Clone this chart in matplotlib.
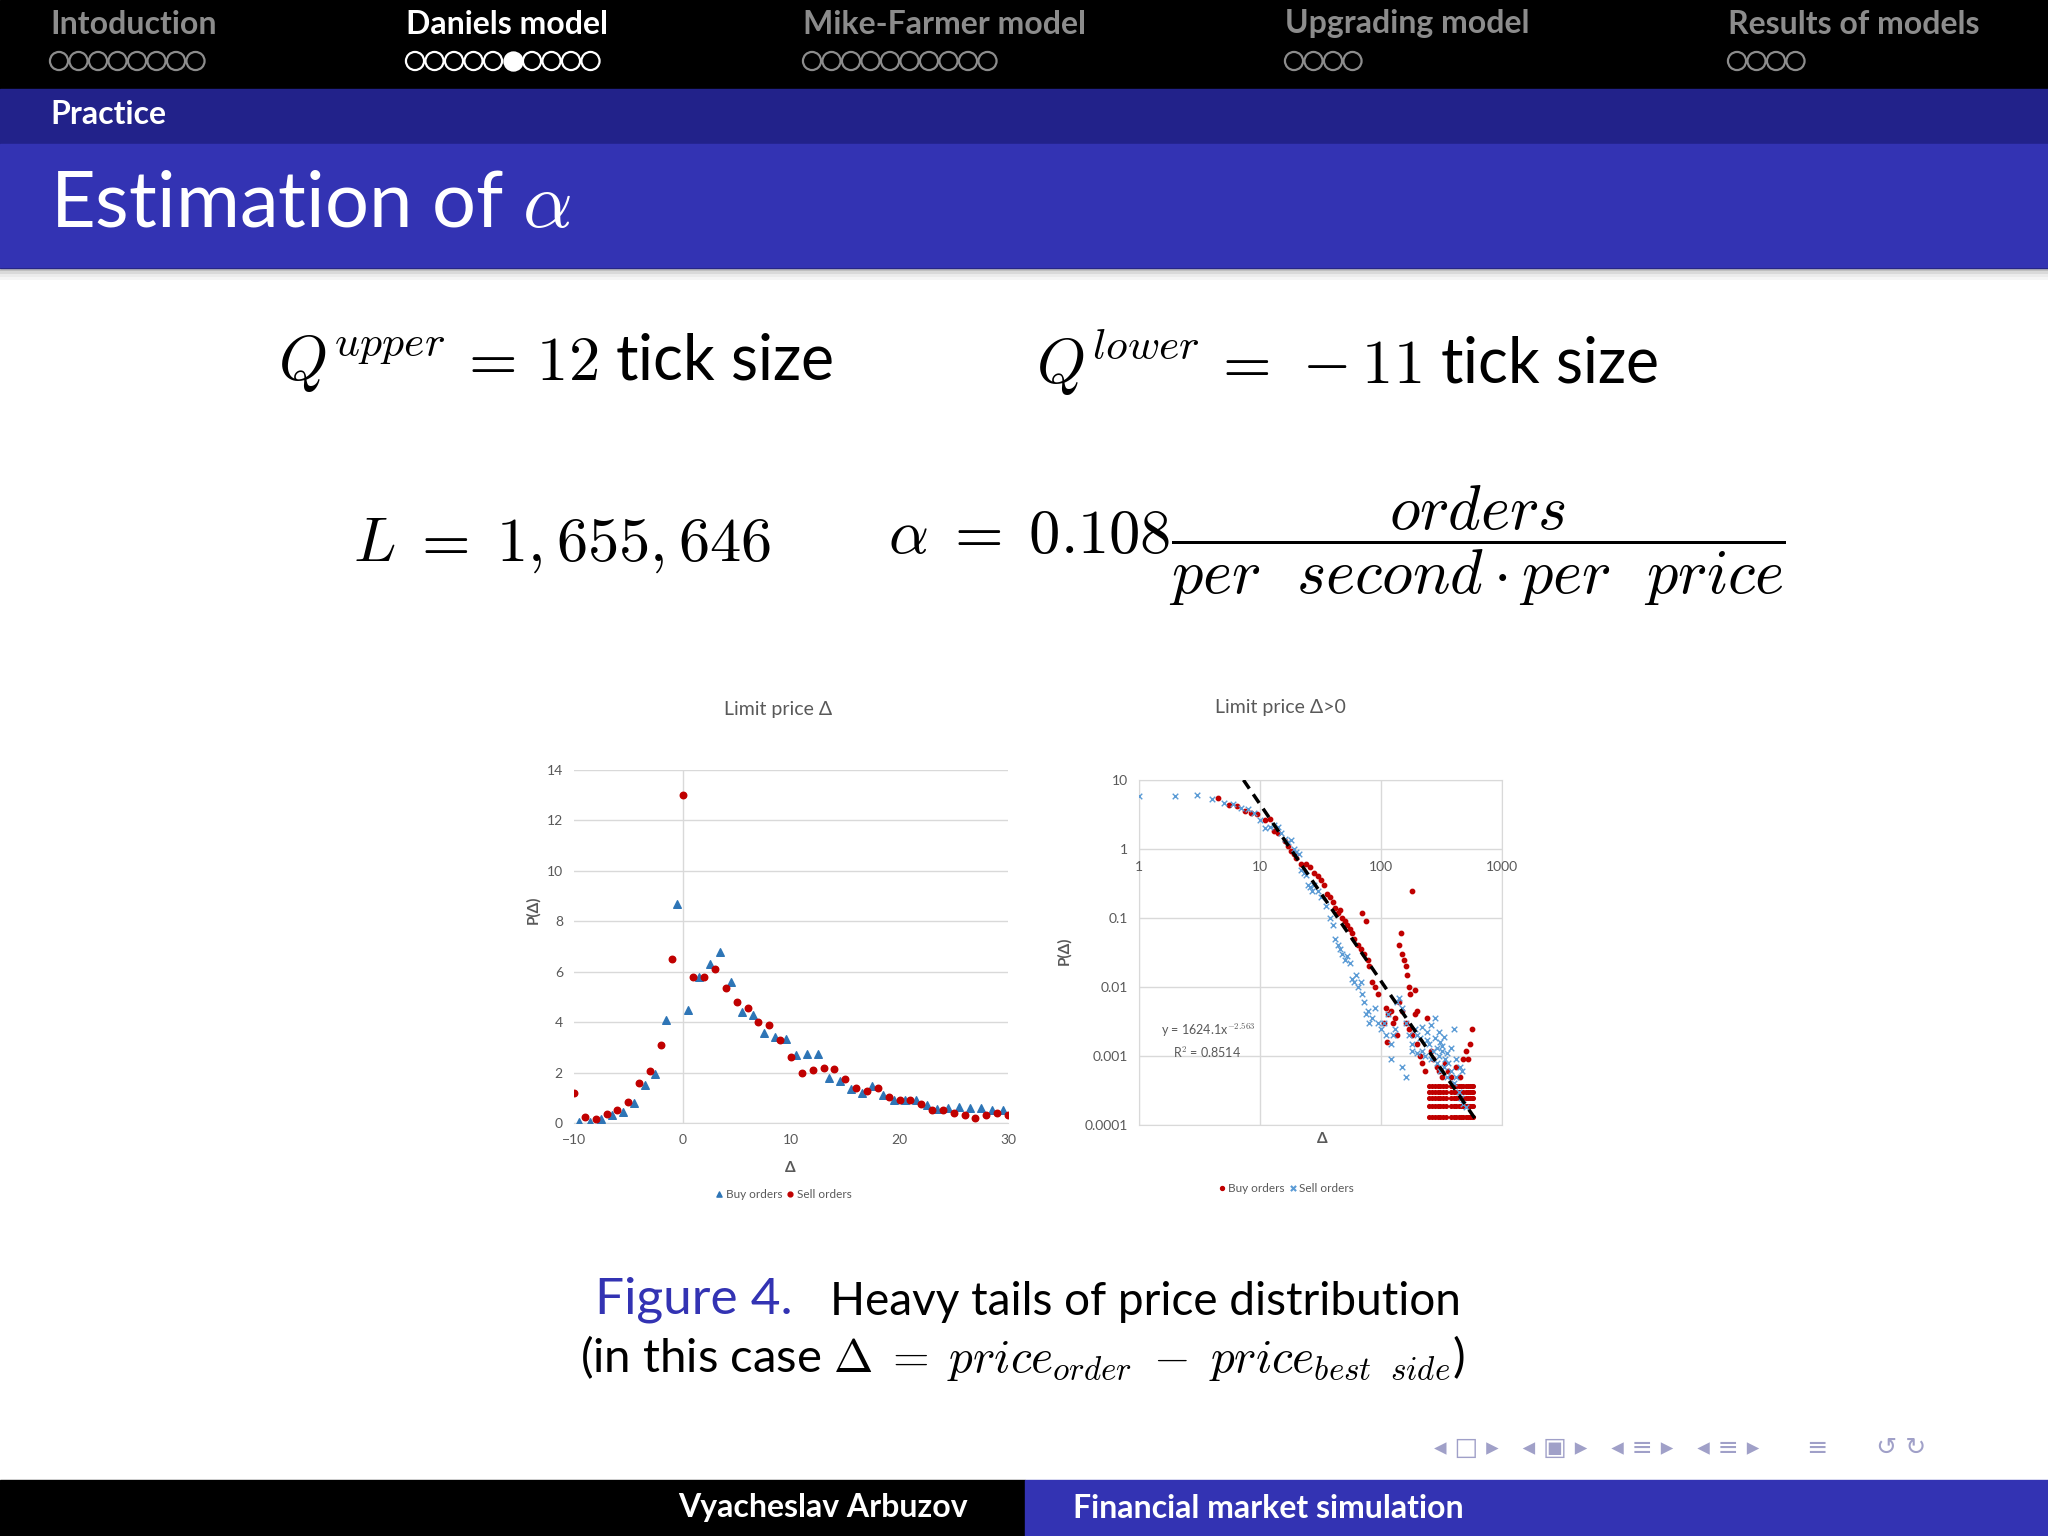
import numpy as np
import matplotlib
matplotlib.use("Agg")
import matplotlib.pyplot as plt
from matplotlib.patches import Rectangle

plt.rcParams["font.family"] = ["Lato", "DejaVu Sans"]
plt.rcParams["mathtext.fontset"] = "cm"

# ==========================================
# DATA
# ==========================================
sections = ["Intoduction", "Daniels model", "Mike-Farmer model", "Upgrading model", "Results of models"]
section_x = [50, 406, 803, 1285, 1728]
section_dots = [8, 10, 10, 4, 4]
active_section = 1
active_dot = 5

# left chart: limit price delta
sell_x = list(range(-10, 31))
sell_y = [1.2, 0.25, 0.15, 0.35, 0.5, 0.85, 1.6, 2.05, 3.1, 6.5, 13.0, 5.8, 5.8, 6.1, 5.35,
          4.8, 4.55, 4.0, 3.9, 3.3, 2.6, 2.0, 2.1, 2.2, 2.15, 1.75, 1.4, 1.25, 1.4, 1.05,
          0.9, 0.9, 0.75, 0.5, 0.5, 0.4, 0.3, 0.2, 0.3, 0.4, 0.3]
buy_x = [v + 0.5 for v in range(-10, 30)]
buy_y = [0.05, 0.05, 0.15, 0.3, 0.45, 0.8, 1.5, 1.95, 4.1, 8.7, 4.5, 5.8, 6.3, 6.8, 5.6,
         4.4, 4.3, 3.55, 3.4, 3.35, 2.7, 2.75, 2.75, 1.8, 1.65, 1.35, 1.2, 1.45, 1.1, 0.9,
         0.9, 0.9, 0.7, 0.55, 0.6, 0.65, 0.6, 0.6, 0.5, 0.5]

# right chart: delta > 0, log-log
rb_x = [4.5, 5.5, 6.5, 7.5, 8.5, 9.5, 11, 12, 13, 14, 16, 17, 18, 19, 20, 22, 24, 26, 28, 30,
        32, 34, 36, 38, 40, 42, 44, 46, 48, 50, 52, 55, 58, 60, 65, 68, 70, 75, 72, 78, 80,
        85, 90, 95, 110, 115, 120, 125, 130, 140, 145, 150, 155, 160, 165, 170, 175, 180,
        190, 140, 150, 160, 170, 180, 200, 210, 220, 230, 105, 112, 135, 190, 200, 240, 260,
        270, 290, 300, 320, 340, 360, 380, 420, 450, 480, 500, 520, 540, 560]
rb_y = [5.5, 4.4, 4.2, 3.6, 3.3, 3.2, 2.6, 2.7, 1.8, 1.7, 1.3, 1.1, 0.95, 0.85, 0.75, 0.6,
        0.6, 0.55, 0.45, 0.4, 0.35, 0.3, 0.22, 0.2, 0.17, 0.14, 0.12, 0.13, 0.1, 0.09, 0.08,
        0.07, 0.06, 0.05, 0.04, 0.035, 0.12, 0.09, 0.03, 0.025, 0.02, 0.012, 0.01, 0.008,
        0.005, 0.004, 0.0045, 0.003, 0.0035, 0.04, 0.06, 0.03, 0.025, 0.02, 0.015, 0.01,
        0.008, 0.25, 0.009, 0.006, 0.0045, 0.003, 0.0025, 0.002, 0.0015, 0.001, 0.0008,
        0.0006, 0.003, 0.0016, 0.002, 0.004, 0.0045, 0.0035, 0.0012, 0.0009, 0.0007, 0.0006,
        0.0005, 0.0008, 0.0006, 0.0005, 0.0007, 0.0005, 0.0009, 0.0012, 0.0009, 0.0015, 0.0025]
rb_row_x = [250, 265, 280, 295, 310, 325, 345, 380, 400, 420, 440, 460, 480, 500, 520, 540, 560, 580]
rb_row_y = [0.00013, 0.00019, 0.00025, 0.0003, 0.00037]

rs_x = [1, 2, 3, 4, 5, 6, 7, 8, 9, 10, 11, 12, 13, 14, 15, 16, 17, 18, 19, 20, 21, 22, 23, 24,
        25, 26, 27, 28, 30, 32, 35, 38, 40, 42, 44, 46, 48, 50, 52, 55, 58, 60, 62, 65, 68,
        70, 72, 75, 78, 80, 85, 90, 95, 100, 105, 110, 115, 120, 125, 130, 135, 140, 150,
        160, 170, 180, 190, 200, 210, 220, 230, 240, 250, 260, 270, 280, 290, 300, 310, 320,
        330, 340, 350, 360, 380, 400, 420, 440, 460, 480, 500, 160, 180, 280, 400, 350, 320,
        300, 260, 240, 220, 420, 450, 470, 380, 330, 310, 290, 200, 150, 120]
rs_y = [5.8, 5.8, 6.0, 5.3, 4.7, 4.5, 3.9, 3.8, 3.3, 2.6, 2.0, 2.1, 2.2, 2.1, 1.7, 1.4, 1.25,
        1.35, 1.0, 0.9, 0.85, 0.5, 0.45, 0.42, 0.3, 0.28, 0.25, 0.3, 0.25, 0.2, 0.15, 0.1, 0.08,
        0.05, 0.04, 0.035, 0.03, 0.025, 0.028, 0.022, 0.013, 0.012, 0.015, 0.01, 0.012, 0.008,
        0.006, 0.004, 0.0045, 0.003, 0.0035, 0.005, 0.003, 0.0025, 0.003, 0.002, 0.004, 0.0015,
        0.002, 0.0025, 0.006, 0.007, 0.005, 0.003, 0.002, 0.0015, 0.0025, 0.002, 0.0018, 0.0012,
        0.001, 0.0022, 0.0015, 0.0009, 0.0012, 0.0018, 0.0008, 0.001, 0.0006, 0.0012, 0.0007,
        0.0009, 0.0005, 0.0008, 0.0006, 0.0004, 0.0005, 0.0003, 0.00025, 0.0002, 0.00018,
        0.0005, 0.0012, 0.0035, 0.0025, 0.0011, 0.0014, 0.0022, 0.0028, 0.0017, 0.0026, 0.0009,
        0.0007, 0.0006, 0.0013, 0.0019, 0.0016, 0.0013, 0.0011, 0.0007, 0.0009]

trend_x = [7.3, 620]
trend_y = [10, 0.000113]

RED = "#C00000"
BLUE = "#2E75B6"
LBLUE = "#5B9BD5"
GREY = "#595959"
SLIDE_BLUE = "#3333B3"

# ==========================================
# SLIDE BACKGROUND
# ==========================================
fig = plt.figure(figsize=(20.48, 15.36), dpi=100)
bg = fig.add_axes([0, 0, 1, 1])
bg.set_xlim(0, 2048)
bg.set_ylim(1536, 0)
bg.axis("off")

bg.add_patch(Rectangle((0, 0), 2048, 89, color="black"))
bg.add_patch(Rectangle((0, 89), 2048, 55, color="#22228a"))
bg.add_patch(Rectangle((0, 144), 2048, 124, color=SLIDE_BLUE))
for i, a in enumerate([0.25, 0.15, 0.08, 0.04]):
    bg.add_patch(Rectangle((0, 268 + i * 3), 2048, 3, color="black", alpha=a, lw=0))
bg.add_patch(Rectangle((0, 1480), 1025, 56, color="black"))
bg.add_patch(Rectangle((1025, 1480), 1023, 56, color=SLIDE_BLUE))

for i, (name, x0, n) in enumerate(zip(sections, section_x, section_dots)):
    col = "white" if i == active_section else "#8c8c8c"
    bg.text(x0, 24, name, color=col, fontsize=23, fontweight="bold", va="center")
    for k in range(n):
        filled = (i == active_section and k == active_dot)
        bg.scatter(x0 + 9 + k * 19.5, 61, s=170, marker="o",
                   facecolor=col if filled else "none", edgecolor=col, linewidth=1.6)

bg.text(50, 115, "Practice", color="white", fontsize=23, fontweight="bold", va="center")
bg.text(50, 205, r"Estimation of $\alpha$", color="white", fontsize=56, va="center")

# formulas
bg.text(278, 363, r"$Q^{upper}\,=\,12$ tick size", fontsize=45, va="center")
bg.text(1036, 363, r"$Q^{lower}\,=\,-11$ tick size", fontsize=45, va="center")
bg.text(353, 546, r"$L\;=\;1,655,646$", fontsize=45, va="center")
bg.text(888, 546, r"$\alpha\;=\;0.108\dfrac{orders}{per\ \ second\cdot per\ \ price}$",
        fontsize=45, va="center")

# caption
bg.text(595, 1300, "Figure 4.", color=SLIDE_BLUE, fontsize=37, va="center")
bg.text(830, 1302, "Heavy tails of price distribution", fontsize=33, va="center")
bg.text(1023, 1358, r"(in this case $\Delta\;=\;price_{order}\;-\;price_{best\ \ side}$)",
        fontsize=34, va="center", ha="center")

# footer
bg.text(823, 1508, "Vyacheslav Arbuzov", color="white", fontsize=23, fontweight="bold",
        ha="center", va="center")
bg.text(1073, 1508, "Financial market simulation", color="white", fontsize=23,
        fontweight="bold", va="center")
bg.text(1680, 1448, "\u25C2 \u25A1 \u25B8   \u25C2 \u25A3 \u25B8   \u25C2 \u2261 \u25B8   \u25C2 \u2261 \u25B8      \u2261      \u21BA \u21BB",
        color="#a0a0c8", fontsize=18, ha="center", va="center", family=["DejaVu Sans"])


def to_fig(x0, y0, x1, y1):
    return [x0 / 2048, 1 - y1 / 1536, (x1 - x0) / 2048, (y1 - y0) / 1536]


# ==========================================
# LEFT CHART
# ==========================================
ax1 = fig.add_axes(to_fig(574, 770, 1008, 1123))
ax1.scatter(buy_x, buy_y, marker="^", s=30, color=BLUE, zorder=3)
ax1.scatter(sell_x, sell_y, marker="o", s=22, color=RED, zorder=3)
ax1.set_xlim(-10, 30)
ax1.set_ylim(0, 14)
ax1.set_yticks(range(0, 15, 2))
ax1.set_xticks([-10, 0, 10, 20, 30])
ax1.grid(axis="y", color="#d9d9d9", lw=1)
ax1.axvline(0, color="#d9d9d9", lw=1)
for s in ax1.spines.values():
    s.set_visible(False)
ax1.spines["bottom"].set_visible(True)
ax1.spines["bottom"].set_color("#d9d9d9")
ax1.tick_params(length=0, labelsize=10, labelcolor=GREY, pad=8)
ax1.set_axisbelow(True)
bg.text(778, 710, "Limit price \u0394", fontsize=14, color=GREY, ha="center", va="center")
bg.text(533, 910, "P(\u0394)", fontsize=11, color=GREY, fontweight="bold", rotation=90,
        ha="center", va="center")
bg.text(790, 1168, "\u0394", fontsize=11, color=GREY, fontweight="bold", ha="center", va="center")
bg.scatter([719], [1194], marker="^", s=14, color=BLUE)
bg.text(726, 1194, "Buy orders", fontsize=8.5, color=GREY, va="center")
bg.scatter([790], [1194], marker="o", s=12, color=RED)
bg.text(797, 1194, "Sell orders", fontsize=8.5, color=GREY, va="center")

# ==========================================
# RIGHT CHART
# ==========================================
ax2 = fig.add_axes(to_fig(1139, 780, 1502, 1125))
row_x = np.repeat(np.array(rb_row_x, dtype=float)[None, :], len(rb_row_y), 0).ravel()
row_y = np.repeat(np.array(rb_row_y)[:, None], len(rb_row_x), 1).ravel()
ax2.scatter(rb_x, rb_y, marker="o", s=10, color=RED, zorder=3)
ax2.scatter(row_x, row_y, marker="o", s=7, color=RED, zorder=3)
ax2.scatter(rs_x, rs_y, marker="x", s=16, color=LBLUE, linewidths=1, zorder=4)
ax2.plot(trend_x, trend_y, "k--", lw=2.5, dashes=(3, 2), zorder=5)
ax2.set_xscale("log")
ax2.set_yscale("log")
ax2.set_xlim(1, 1000)
ax2.set_ylim(0.0001, 10)
ax2.set_yticks([0.0001, 0.001, 0.01, 0.1, 1, 10])
ax2.set_yticklabels(["0.0001", "0.001", "0.01", "0.1", "1", "10"])
ax2.minorticks_off()
ax2.set_xticks([1, 10, 100, 1000])
ax2.set_xticklabels([])
ax2.grid(True, color="#d9d9d9", lw=1)
for s in ax2.spines.values():
    s.set_color("#d9d9d9")
ax2.tick_params(length=0, labelsize=10, labelcolor=GREY, pad=8)
ax2.set_axisbelow(True)
for xv in [1, 10, 100, 1000]:
    ax2.annotate(str(xv), (xv, 1), xytext=(0, -16), textcoords="offset points",
                 ha="center", fontsize=10, color=GREY)
ax2.text(0.06, 0.26, r"y = 1624.1x$^{-2.563}$", transform=ax2.transAxes, fontsize=9, color=GREY)
ax2.text(0.095, 0.195, r"R$^2$ = 0.8514", transform=ax2.transAxes, fontsize=9, color=GREY)
bg.text(1280, 707, "Limit price \u0394>0", fontsize=14, color=GREY, ha="center", va="center")
bg.text(1064, 951, "P(\u0394)", fontsize=11, color=GREY, fontweight="bold", rotation=90,
        ha="center", va="center")
bg.text(1322, 1139, "\u0394", fontsize=11, color=GREY, fontweight="bold", ha="center", va="center")
bg.scatter([1222], [1188], marker="o", s=8, color=RED)
bg.text(1228, 1188, "Buy orders", fontsize=8.5, color=GREY, va="center")
bg.scatter([1293], [1188], marker="x", s=14, color=LBLUE)
bg.text(1299, 1188, "Sell orders", fontsize=8.5, color=GREY, va="center")

fig.savefig("out.png", dpi=100)
